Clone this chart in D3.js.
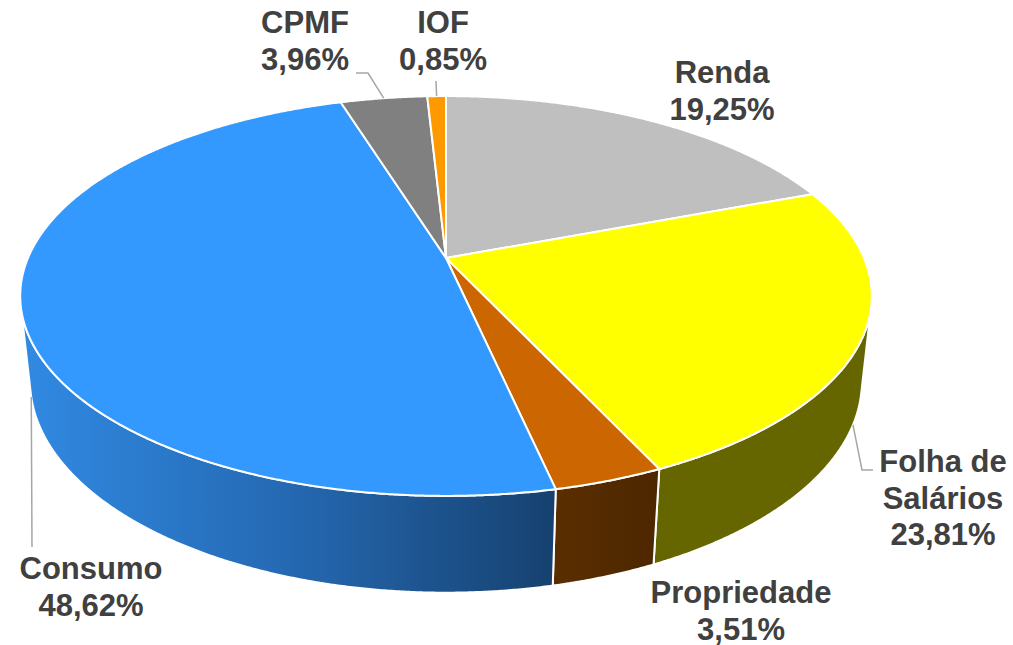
<!DOCTYPE html>
<html>
<head>
<meta charset="utf-8">
<script src="https://cdn.jsdelivr.net/npm/d3@7"></script>
<style>
  body { margin: 0; background: #fff; }
  text { font-family: "Liberation Sans", Arial, sans-serif; font-weight: bold; fill: #404040; }
</style>
</head>
<body>
<div id="chart"></div>
<script>
// data
var categories = ["Renda", "Folha de Salários", "Propriedade", "Consumo", "CPMF", "IOF"];
var labelLines = [["Renda"], ["Folha de", "Salários"], ["Propriedade"], ["Consumo"], ["CPMF"], ["IOF"]];
var values = [19.25, 23.81, 3.51, 48.62, 3.96, 0.85];
var topColors = ["#bfbfbf", "#ffff00", "#cc6600", "#3399ff", "#808080", "#ff9900"];
var sideColors = ["#8a8a8a", "#666600", "url(#gProp)", "url(#gCons)", "#5a5a5a", "#b36b00"];

var width = 1013, height = 645;

// 3d view settings (fitted by eye)
var cx = 446, cy = 258;       // centre of the top face on screen
var k = 418;                  // radius scale
var phi = Math.asin(0.461);   // elevation
var D = 4.67;                 // camera distance (radius units)
var thick = 0.232;            // pie thickness (radius units)

// r = 1 on the rim, 0 at the centre
function proj(t, y, r) {
    if (r === undefined) r = 1;
    var X = r * Math.sin(t), Z = -r * Math.cos(t);
    var v = y * Math.cos(phi) - Z * Math.sin(phi);
    var d = y * Math.sin(phi) + Z * Math.cos(phi);
    var s = D / (D - d);
    return [cx + k * X * s, cy - k * v * s];
}

// the outer wall is visible while Z > 1/(D cos phi)
var zMin = 1 / (D * Math.cos(phi));
var visA = Math.acos(-zMin), visB = 2 * Math.PI - Math.acos(-zMin);

var svg = d3.select("#chart").append("svg")
    .attr("width", width)
    .attr("height", height);

var defs = svg.append("defs");
var gc = defs.append("linearGradient").attr("id", "gCons")
    .attr("gradientUnits", "userSpaceOnUse")
    .attr("x1", 20).attr("y1", 0).attr("x2", 555).attr("y2", 0);
gc.append("stop").attr("offset", 0).attr("stop-color", "#318ae3");
gc.append("stop").attr("offset", 0.5).attr("stop-color", "#2569b3");
gc.append("stop").attr("offset", 1).attr("stop-color", "#16416f");
var gp = defs.append("linearGradient").attr("id", "gProp")
    .attr("gradientUnits", "userSpaceOnUse")
    .attr("x1", 553).attr("y1", 0).attr("x2", 658).attr("y2", 0);
gp.append("stop").attr("offset", 0).attr("stop-color", "#5a2e00");
gp.append("stop").attr("offset", 1).attr("stop-color", "#4d2700");

var arcs = d3.pie().sort(null).value(function (d) { return d; })(values);

function rim(a0, a1, y) {
    var n = Math.max(2, Math.ceil((a1 - a0) / 0.005));
    return d3.range(n + 1).map(function (i) { return proj(a0 + (a1 - a0) * i / n, y); });
}

var line = d3.line();

// walls
arcs.forEach(function (a, i) {
    var a0 = Math.max(a.startAngle, visA), a1 = Math.min(a.endAngle, visB);
    if (a1 <= a0) return;
    var pts = rim(a0, a1, 0).concat(rim(a0, a1, -thick).reverse());
    svg.append("path")
        .attr("d", line(pts) + "Z")
        .attr("fill", sideColors[i])
        .attr("stroke", "#fff")
        .attr("stroke-width", 2)
        .attr("stroke-linejoin", "round");
});

// tops
arcs.forEach(function (a, i) {
    var pts = [proj(0, 0, 0)].concat(rim(a.startAngle, a.endAngle, 0));
    svg.append("path")
        .attr("d", line(pts) + "Z")
        .attr("fill", topColors[i])
        .attr("stroke", "#fff")
        .attr("stroke-width", 2)
        .attr("stroke-linejoin", "round");
});

// labels
var fmt = function (v) { return d3.format(".2f")(v).replace(".", ",") + "%"; };
var labelPos = [[722, 83], [943, 472], [741, 603], [91, 579], [305, 33], [443, 33]];
var lineH = 36.5;

labelLines.forEach(function (ls, i) {
    var t = svg.append("text")
        .attr("text-anchor", "middle")
        .style("font-size", "31px");
    ls.concat([fmt(values[i])]).forEach(function (s, j) {
        t.append("tspan").attr("x", labelPos[i][0]).attr("y", labelPos[i][1] + j * lineH).text(s);
    });
});

// leader lines: start at the slice's mid angle, end near its label
var leaders = [
    { i: 1, y: -thick, to: [[862, 470], [873, 470]] },
    { i: 3, y: -thick, to: [[32, 547]] },
    { i: 4, y: 0, to: [[368, 73], [356, 73]] },
    { i: 5, y: 0, to: [[436, 81]] }
];
leaders.forEach(function (l) {
    var a = arcs[l.i];
    var p = proj((a.startAngle + a.endAngle) / 2, l.y);
    svg.append("path")
        .attr("d", line([p].concat(l.to)))
        .attr("fill", "none")
        .attr("stroke", "#a6a6a6")
        .attr("stroke-width", 1.5);
});
</script>
</body>
</html>
